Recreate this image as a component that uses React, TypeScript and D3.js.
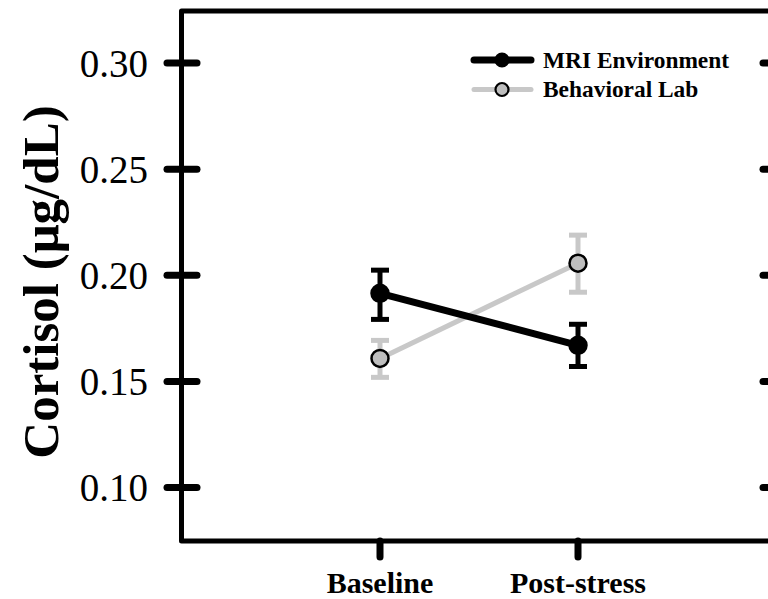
import * as d3 from 'd3'

const phases = ['Baseline', 'Post-stress']
const yTicks = [0.1, 0.15, 0.2, 0.25, 0.3]

const mriMean = [0.1915, 0.167]
const mriLow = [0.1792, 0.157]
const mriHigh = [0.2024, 0.1769]

const labMean = [0.1608, 0.2057]
const labLow = [0.1519, 0.192]
const labHigh = [0.1693, 0.2189]

const FONT = '"Liberation Serif", "Times New Roman", Times, serif'
const GRAY = '#c8c8c8'

const W = 768
const H = 599
const left = 181.5
const top = 11
const bottom = 541
const right = 777

type Series = {
  name: string
  mean: number[]
  low: number[]
  high: number[]
  line: string
  lineWidth: number
  fill: string
}

const series: Series[] = [
  { name: 'Behavioral Lab', mean: labMean, low: labLow, high: labHigh, line: GRAY, lineWidth: 5, fill: '#bebebe' },
  { name: 'MRI Environment', mean: mriMean, low: mriLow, high: mriHigh, line: '#000', lineWidth: 7, fill: '#000' },
]

export default function App() {
  const x = d3.scalePoint<string>().domain(phases).range([380, 578])
  const y = d3.scaleLinear().domain([0.1, 0.3]).range([487.5, 63])

  const line = d3.line<number>()
    .x((_, i) => x(phases[i]) ?? 0)
    .y((d) => y(d))

  const legend = [...series].reverse()

  return (
    <svg width={W} height={H} style={{ position: 'fixed', left: 0, top: 0, background: '#fff' }}>
      {/* frame */}
      <path
        d={`M${right},${top} H${left} V${bottom} H${right}`}
        fill="none"
        stroke="#000"
        strokeWidth={5}
        strokeLinejoin="round"
      />
      <line x1={right} x2={right} y1={top} y2={bottom} stroke="#000" strokeWidth={5} />

      {/* y ticks */}
      {yTicks.map((t) => (
        <g key={t}>
          <line x1={167} x2={197} y1={y(t)} y2={y(t)} stroke="#000" strokeWidth={7} strokeLinecap="round" />
          <line x1={763} x2={791} y1={y(t)} y2={y(t)} stroke="#000" strokeWidth={7} strokeLinecap="round" />
          <text x={148} y={y(t)} dy="0.35em" textAnchor="end" fontFamily={FONT} fontSize={39}>
            {d3.format('.2f')(t)}
          </text>
        </g>
      ))}

      {/* x ticks */}
      {phases.map((p) => (
        <g key={p}>
          <line x1={x(p)} x2={x(p)} y1={bottom} y2={557} stroke="#000" strokeWidth={7} strokeLinecap="round" />
          <text x={x(p)} y={593} textAnchor="middle" fontFamily={FONT} fontSize={30} fontWeight="bold">
            {p}
          </text>
        </g>
      ))}

      <text
        transform={`translate(58,282) rotate(-90)`}
        textAnchor="middle"
        fontFamily={FONT}
        fontSize={51}
        fontWeight="bold"
      >
        Cortisol (μg/dL)
      </text>

      {/* series */}
      {series.map((s) => (
        <g key={s.name}>
          {s.mean.map((_, i) => {
            const cx = x(phases[i]) ?? 0
            return (
              <g key={i} stroke={s.line} strokeWidth={5}>
                <line x1={cx} x2={cx} y1={y(s.low[i])} y2={y(s.high[i])} />
                <line x1={cx - 9} x2={cx + 9} y1={y(s.low[i])} y2={y(s.low[i])} />
                <line x1={cx - 9} x2={cx + 9} y1={y(s.high[i])} y2={y(s.high[i])} />
              </g>
            )
          })}
          <path d={line(s.mean) ?? ''} fill="none" stroke={s.line} strokeWidth={s.lineWidth} />
          {s.mean.map((v, i) => (
            <circle key={i} cx={x(phases[i])} cy={y(v)} r={8.5} fill={s.fill} stroke="#000" strokeWidth={2.5} />
          ))}
        </g>
      ))}

      {/* legend */}
      {legend.map((s, i) => {
        const ly = 60 + i * 29.5
        return (
          <g key={s.name}>
            <line x1={474} x2={531} y1={ly} y2={ly} stroke={s.line} strokeWidth={s.lineWidth} strokeLinecap="round" />
            <circle cx={502} cy={ly} r={6.5} fill={s.fill} stroke="#000" strokeWidth={2.2} />
            <text x={543} y={ly} dy="0.34em" fontFamily={FONT} fontSize={23.4} fontWeight="bold">
              {s.name}
            </text>
          </g>
        )
      })}
    </svg>
  )
}
